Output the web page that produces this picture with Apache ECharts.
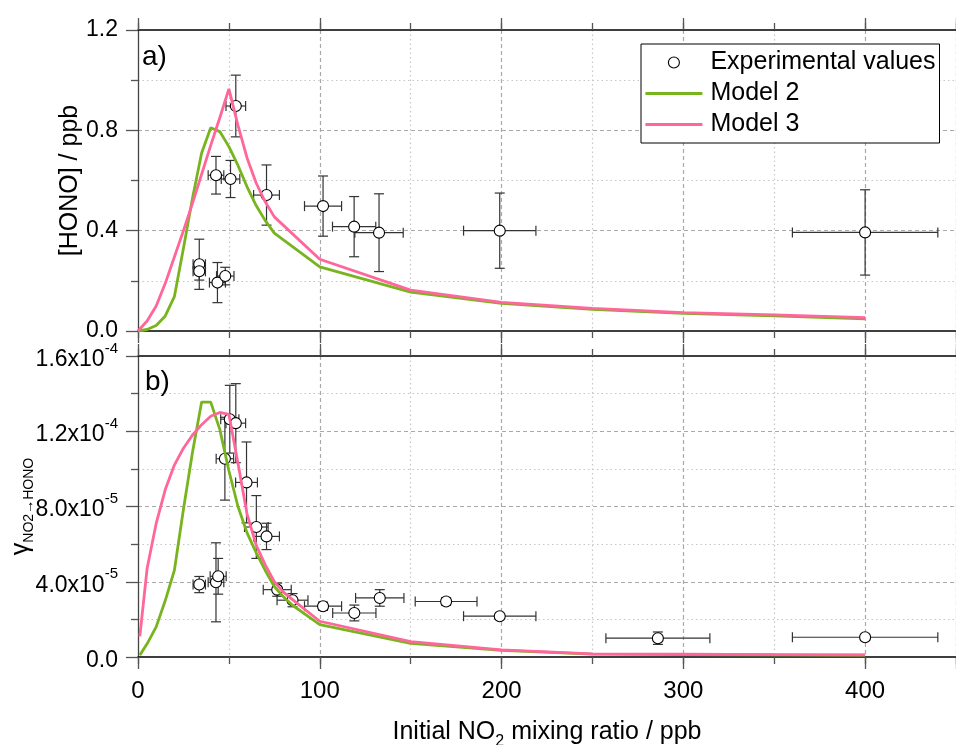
<!DOCTYPE html>
<html>
<head>
<meta charset="utf-8">
<script src="https://cdn.jsdelivr.net/npm/echarts@6/dist/echarts.min.js"></script>
<style>
html,body{margin:0;padding:0;background:#fff;}
#chart{width:956px;height:745px;}
</style>
</head>
<body>
<div id="chart"></div>
<script>
// ---------------- data ----------------
// panel a) : [HONO] / ppb
const expTopX    = [33.7, 33.7, 42.9, 43.7, 48.0, 50.9, 53.8, 70.7, 101.8, 118.9, 132.6, 199.0, 400.0];
const expTopY    = [0.266, 0.238, 0.621, 0.193, 0.219, 0.606, 0.897, 0.542, 0.498, 0.416, 0.392, 0.400, 0.393];
const expTopXErr = [3.4, 3.4, 4.3, 4.4, 4.8, 5.1, 5.4, 7.1, 10.2, 11.9, 13.3, 19.9, 40.0];
const expTopYErr = [0.100, 0.035, 0.075, 0.080, 0.035, 0.074, 0.123, 0.120, 0.120, 0.120, 0.155, 0.150, 0.170];

const modelXTop  = [0, 5, 10, 15, 20, 25, 30, 35, 40, 45, 50, 55, 60, 65, 70, 75, 100, 150, 200, 250, 300, 350, 400];
const model2Top  = [0, 0.006, 0.022, 0.060, 0.137, 0.330, 0.530, 0.710, 0.810, 0.795, 0.735, 0.660, 0.575, 0.500, 0.440, 0.390, 0.256, 0.155, 0.110, 0.086, 0.070, 0.060, 0.048];
const model3Top  = [0, 0.040, 0.100, 0.190, 0.295, 0.400, 0.510, 0.625, 0.740, 0.850, 0.965, 0.820, 0.690, 0.590, 0.515, 0.455, 0.286, 0.163, 0.114, 0.090, 0.073, 0.064, 0.053];

// panel b) : gamma NO2->HONO
const expBotX    = [33.7, 42.9, 44.1, 47.8, 50.5, 53.8, 59.7, 65.1, 70.7, 76.6, 85.0, 101.8, 119.0, 133.0, 169.5, 199.0, 286.0, 400.0];
const expBotY    = [3.85e-5, 3.97e-5, 4.29e-5, 10.54e-5, 12.64e-5, 12.43e-5, 9.28e-5, 6.91e-5, 6.41e-5, 3.58e-5, 3.02e-5, 2.70e-5, 2.34e-5, 3.14e-5, 2.95e-5, 2.17e-5, 1.00e-5, 1.05e-5];
const expBotXErr = [3.4, 4.3, 4.4, 4.8, 5.0, 5.4, 6.0, 6.5, 7.1, 7.7, 8.5, 10.2, 11.9, 13.3, 17.0, 19.9, 28.6, 40.0];
const expBotYErr = [0.43e-5, 2.1e-5, 0.95e-5, 2.2e-5, 1.8e-5, 2.1e-5, 2.15e-5, 1.67e-5, 0.7e-5, 0.35e-5, 0.35e-5, 0.22e-5, 0.42e-5, 0.44e-5, 0.2e-5, 0.1e-5, 0.33e-5, 0.15e-5];

const modelXBot  = [1, 5, 10, 15, 20, 25, 30, 35, 40, 45, 50, 55, 60, 65, 70, 75, 80, 85, 100, 150, 200, 250, 300, 350, 400];
const model2Bot  = [0.1e-5, 0.7e-5, 1.6e-5, 3.0e-5, 4.6e-5, 7.85e-5, 10.9e-5, 13.55e-5, 13.55e-5, 12.1e-5, 9.9e-5, 8.0e-5, 6.6e-5, 5.55e-5, 4.6e-5, 3.75e-5, 3.2e-5, 2.75e-5, 1.72e-5, 0.72e-5, 0.35e-5, 0.15e-5, 0.13e-5, 0.11e-5, 0.1e-5];
const model3Bot  = [1.1e-5, 4.7e-5, 7.1e-5, 8.9e-5, 10.2e-5, 11.1e-5, 11.8e-5, 12.35e-5, 12.8e-5, 13.0e-5, 12.9e-5, 10.3e-5, 7.6e-5, 5.95e-5, 4.9e-5, 4.0e-5, 3.45e-5, 3.05e-5, 1.9e-5, 0.82e-5, 0.38e-5, 0.17e-5, 0.15e-5, 0.13e-5, 0.11e-5];

// tick labels
const xTickLabels    = ['0', '100', '200', '300', '400'];
const yTopTickLabels = ['0.0', '0.4', '0.8', '1.2'];
const yBotTickLabels = ['{m|0.0}', '{m|4.0x10}{s|-5}', '{m|8.0x10}{s|-5}', '{m|1.2x10}{s|-4}', '{m|1.6x10}{s|-4}'];

const seriesNames = ['Experimental values', 'Model 2', 'Model 3'];

// ---------------- styling ----------------
const GREEN = '#78b41e';
const PINK  = '#ff6699';
const FONT  = '"Liberation Sans", Arial, sans-serif';
const GRID_MAJOR = '#a9a9a9';
const GRID_MINOR = '#c6c6c6';

const zip = (xs, ys) => xs.map((x, i) => [x, ys[i]]);
const expRows = (xs, ys, xe, ye) => xs.map((x, i) => [x, ys[i], xe[i], ye[i]]);

function lookup(labels, step) {
  return function (v) {
    const i = Math.round(v / step);
    if (Math.abs(v - i * step) > step * 1e-6) return '';
    return labels[i] !== undefined ? labels[i] : '';
  };
}

function xAxisMajor(gi, pos, withLabels) {
  return {
    type: 'value', gridIndex: gi, position: pos, min: 0, max: 450, interval: 100,
    axisLine: { show: true, onZero: false, lineStyle: { color: '#000', width: 1.5 } },
    axisTick: { show: true, inside: false, length: 12, lineStyle: { color: '#555', width: 1.3 } },
    axisLabel: { show: !!withLabels, formatter: lookup(xTickLabels, 100), fontSize: 24, color: '#000', fontFamily: FONT, margin: 22 },
    splitLine: pos === 'bottom' ? { show: true, showMinLine: false, lineStyle: { color: GRID_MAJOR, width: 1.2, type: [4, 3] } } : { show: false },
    minorTick: { show: false }, minorSplitLine: { show: false }
  };
}
function xAxisMinor(gi, pos) {
  return {
    type: 'value', gridIndex: gi, position: pos, min: 0, max: 450, interval: 50,
    axisLine: { show: false, onZero: false },
    axisTick: { show: true, inside: false, length: 7, lineStyle: { color: '#555', width: 1.3 } },
    axisLabel: { show: false },
    splitLine: pos === 'bottom' ? { show: true, lineStyle: { color: ['rgba(0,0,0,0)', GRID_MINOR], width: 1.2, type: [1.5, 3] } } : { show: false }
  };
}

const xAxes = [
  xAxisMajor(0, 'bottom', false), xAxisMinor(0, 'bottom'), xAxisMajor(0, 'top', false), xAxisMinor(0, 'top'),
  xAxisMajor(1, 'bottom', true),  xAxisMinor(1, 'bottom'), xAxisMajor(1, 'top', false), xAxisMinor(1, 'top')
];
xAxes[4].name = '{m|Initial NO}{s|2}{m| mixing ratio / ppb}';
xAxes[4].nameLocation = 'middle';
xAxes[4].nameGap = 57;
xAxes[4].nameMoveOverlap = false;
xAxes[4].nameTextStyle = {
  color: '#000', fontFamily: FONT,
  rich: {
    m: { fontSize: 25, lineHeight: 36, color: '#000', fontFamily: FONT },
    s: { fontSize: 16, lineHeight: 16, verticalAlign: 'bottom', color: '#000', fontFamily: FONT }
  }
};

function yAxisBase(gi, max, interval, formatter, rich) {
  return {
    type: 'value', gridIndex: gi, min: 0, max: max, interval: interval,
    axisLine: { show: true, onZero: false, lineStyle: { color: '#444', width: 1.3 } },
    axisTick: { show: true, inside: false, length: 12, lineStyle: { color: '#555', width: 1.3 } },
    minorTick: { show: true, splitNumber: 2, length: 7, lineStyle: { color: '#555', width: 1.3 } },
    axisLabel: { formatter: formatter, fontSize: 23, color: '#000', fontFamily: FONT, margin: 20, rich: rich },
    splitLine: { show: true, showMinLine: false, showMaxLine: false, lineStyle: { color: GRID_MAJOR, width: 1.2, type: [4, 3] } },
    minorSplitLine: { show: true, lineStyle: { color: GRID_MINOR, width: 1.2, type: [1.5, 3] } }
  };
}

const yTop = yAxisBase(0, 1.2, 0.4, lookup(yTopTickLabels, 0.4));
yTop.name = '[HONO] / ppb';
yTop.nameLocation = 'middle';
yTop.nameRotate = 90;
yTop.nameGap = 55;
yTop.nameMoveOverlap = false;
yTop.nameTextStyle = { fontSize: 25, color: '#000', fontFamily: FONT };

const yBot = yAxisBase(1, 1.6e-4, 4e-5, lookup(yBotTickLabels, 4e-5), {
  m: { fontSize: 23, lineHeight: 30, verticalAlign: 'bottom', color: '#000', fontFamily: FONT },
  s: { fontSize: 15, lineHeight: 15, verticalAlign: 'top', color: '#000', fontFamily: FONT }
});
yBot.name = '{g|γ}{n|NO2→HONO}';
yBot.nameLocation = 'middle';
yBot.nameRotate = 90;
yBot.nameGap = 102;
yBot.nameMoveOverlap = false;
yBot.nameTextStyle = {
  color: '#000', fontFamily: FONT,
  rich: {
    g: { fontSize: 25, lineHeight: 30, color: '#000', fontFamily: FONT },
    n: { fontSize: 14, lineHeight: 14, verticalAlign: 'bottom', color: '#000', fontFamily: FONT }
  }
};

function errorBarRender(params, api) {
  const x = api.value(0), y = api.value(1), xe = api.value(2), ye = api.value(3);
  const c = api.coord([x, y]);
  const L = api.coord([x - xe, y]), R = api.coord([x + xe, y]);
  const T = api.coord([x, y + ye]), B = api.coord([x, y - ye]);
  const cap = 5;
  const st = { stroke: '#333', lineWidth: 1.2, fill: null };
  const ln = (x1, y1, x2, y2) => ({ type: 'line', shape: { x1, y1, x2, y2 }, style: st });
  return {
    type: 'group',
    children: [
      ln(L[0], c[1], R[0], c[1]),
      ln(L[0], c[1] - cap, L[0], c[1] + cap),
      ln(R[0], c[1] - cap, R[0], c[1] + cap),
      ln(c[0], T[1], c[0], B[1]),
      ln(c[0] - cap, T[1], c[0] + cap, T[1]),
      ln(c[0] - cap, B[1], c[0] + cap, B[1])
    ]
  };
}

function lineSeries(name, color, xi, yi, data) {
  return {
    name: name, type: 'line', xAxisIndex: xi, yAxisIndex: yi, data: data,
    symbol: 'none', showSymbol: false, smooth: false, silent: true,
    lineStyle: { color: color, width: 2.8 }, itemStyle: { color: color }
  };
}
function errSeries(xi, yi, rows) {
  return {
    name: 'Experimental values', type: 'custom', xAxisIndex: xi, yAxisIndex: yi,
    renderItem: errorBarRender, data: rows, encode: { x: 0, y: 1 }, silent: true, clip: false
  };
}
function scatterSeries(xi, yi, data) {
  return {
    name: 'Experimental values', type: 'scatter', xAxisIndex: xi, yAxisIndex: yi, data: data,
    symbol: 'circle', symbolSize: 11, silent: true,
    itemStyle: { color: '#fff', borderColor: '#000', borderWidth: 1.1, opacity: 1 }
  };
}

const option = {
  animation: false,
  backgroundColor: '#fff',
  textStyle: { fontFamily: FONT },
  grid: [
    { left: 138, right: 0, top: 30, height: 301, containLabel: false, outerBoundsMode: 'none' },
    { left: 138, right: 0, top: 356, height: 301, containLabel: false, outerBoundsMode: 'none' }
  ],
  xAxis: xAxes,
  yAxis: [yTop, yBot],
  legend: {
    orient: 'vertical', left: 641, top: 44,
    data: [
      { name: seriesNames[0], icon: 'circle', itemStyle: { color: '#fff', borderColor: '#000', borderWidth: 1.1 } },
      { name: seriesNames[1], itemStyle: { opacity: 0 }, lineStyle: { color: GREEN, width: 2.8 } },
      { name: seriesNames[2], itemStyle: { opacity: 0 }, lineStyle: { color: PINK, width: 2.8 } }
    ],
    itemWidth: 57, itemHeight: 11, itemGap: 6,
    padding: [6, 4, 6, 3],
    borderColor: '#000', borderWidth: 1, backgroundColor: '#fff',
    textStyle: { fontSize: 25, lineHeight: 25, color: '#000', fontFamily: FONT, padding: [0, 0, 0, 3] },
    selectedMode: false
  },
  graphic: [
    { type: 'text', left: 142, top: 43, style: { text: 'a)', fontSize: 28, fill: '#000', fontFamily: FONT } },
    { type: 'text', left: 145, top: 368, style: { text: 'b)', fontSize: 28, fill: '#000', fontFamily: FONT } }
  ],
  series: [
    lineSeries(seriesNames[1], GREEN, 0, 0, zip(modelXTop, model2Top)),
    lineSeries(seriesNames[2], PINK, 0, 0, zip(modelXTop, model3Top)),
    errSeries(0, 0, expRows(expTopX, expTopY, expTopXErr, expTopYErr)),
    scatterSeries(0, 0, zip(expTopX, expTopY)),
    lineSeries(seriesNames[1], GREEN, 4, 1, zip(modelXBot, model2Bot)),
    lineSeries(seriesNames[2], PINK, 4, 1, zip(modelXBot, model3Bot)),
    errSeries(4, 1, expRows(expBotX, expBotY, expBotXErr, expBotYErr)),
    scatterSeries(4, 1, zip(expBotX, expBotY))
  ]
};

const chart = echarts.init(document.getElementById('chart'), null, { renderer: 'canvas', width: 956, height: 745 });
chart.setOption(option);
</script>
</body>
</html>
